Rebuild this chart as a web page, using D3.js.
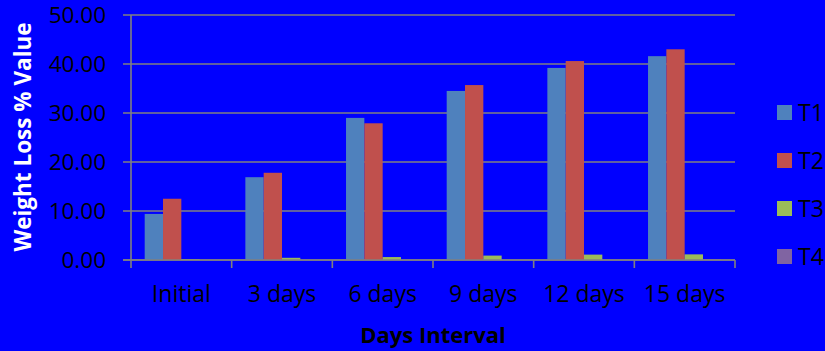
<!DOCTYPE html>
<html>
<head>
<meta charset="utf-8">
<script src="https://cdn.jsdelivr.net/npm/d3@7"></script>
<style>
  html, body { margin: 0; padding: 0; background: #0000ff; }
  svg { display: block; }
  text { font-family: "Open Sans", "DejaVu Sans", sans-serif; }
</style>
</head>
<body>
<svg id="chart" width="825" height="351"></svg>
<script>
// Weight loss (%) per treatment over the storage interval
const categories = ["Initial", "3 days", "6 days", "9 days", "12 days", "15 days"];
const seriesNames = ["T1", "T2", "T3", "T4"];
const t1 = [9.4, 16.9, 29.0, 34.5, 39.2, 41.6];
const t2 = [12.5, 17.8, 27.9, 35.7, 40.6, 43.0];
const t3 = [0.2, 0.45, 0.6, 0.9, 1.1, 1.15];
const t4 = [0.0, 0.0, 0.0, 0.0, 0.0, 0.2];
const yTicks = [0, 10, 20, 30, 40, 50];
const colors = ["#4f81bd", "#c0504d", "#9bbb59", "#8064a2"];

const series = [t1, t2, t3, t4];
const rows = categories.map((c, i) => ({ cat: c, values: series.map(s => s[i]) }));

const svg = d3.select("#chart");
const plotLeft = 131, plotRight = 735, plotTop = 15, plotBottom = 260;
const grid = "#808080";

const x0 = d3.scaleBand().domain(categories).range([plotLeft, plotRight])
  .paddingInner(0.272).paddingOuter(0.136);
const x1 = d3.scaleBand().domain(seriesNames).range([0, x0.bandwidth()]);
const y = d3.scaleLinear().domain([0, 50]).range([plotBottom, plotTop]);

// horizontal gridlines with short ticks to the left of the axis
svg.append("g").selectAll("line").data(yTicks).join("line")
  .attr("x1", plotLeft - 8).attr("x2", plotRight)
  .attr("y1", d => y(d)).attr("y2", d => y(d))
  .attr("stroke", grid).attr("stroke-width", 1.6);

// y tick labels
svg.append("g").selectAll("text").data(yTicks).join("text")
  .attr("x", 106).attr("y", d => y(d))
  .attr("dy", "0.37em").attr("text-anchor", "end")
  .attr("font-size", 22.5).attr("fill", "#000")
  .text(d3.format(".2f"));

// bars
const groups = svg.append("g").selectAll("g").data(rows).join("g")
  .attr("transform", d => `translate(${x0(d.cat)},0)`);
groups.selectAll("rect")
  .data(d => d.values.map((v, i) => ({ key: seriesNames[i], v, i })))
  .join("rect")
  .attr("x", d => x1(d.key))
  .attr("width", x1.bandwidth())
  .attr("y", d => y(d.v))
  .attr("height", d => Math.max(0, y(0) - y(d.v)))
  .attr("fill", d => colors[d.i]);

// vertical axis line and category boundary ticks
svg.append("line")
  .attr("x1", plotLeft).attr("x2", plotLeft).attr("y1", plotTop).attr("y2", plotBottom + 8)
  .attr("stroke", grid).attr("stroke-width", 1.6);
const bounds = categories.map(c => x0(c) - x0.step() * 0.136).concat([plotRight]);
svg.append("g").selectAll("line").data(bounds.slice(1)).join("line")
  .attr("x1", d => d).attr("x2", d => d)
  .attr("y1", plotBottom).attr("y2", plotBottom + 8)
  .attr("stroke", grid).attr("stroke-width", 1.6);
// baseline on top
svg.append("line")
  .attr("x1", plotLeft - 8).attr("x2", plotRight).attr("y1", plotBottom).attr("y2", plotBottom)
  .attr("stroke", grid).attr("stroke-width", 1.6);

// category labels
svg.append("g").selectAll("text").data(categories).join("text")
  .attr("x", d => x0(d) + x0.bandwidth() / 2).attr("y", 302)
  .attr("text-anchor", "middle").attr("font-size", 23).attr("fill", "#000")
  .text(d => d);

// axis titles
svg.append("text")
  .attr("x", (plotLeft + plotRight) / 2).attr("y", 343)
  .attr("text-anchor", "middle").attr("font-size", 22).attr("font-weight", "bold")
  .attr("fill", "#000").text("Days Interval");
svg.append("text")
  .attr("transform", "translate(31,137) rotate(-90)")
  .attr("text-anchor", "middle").attr("font-size", 22.5).attr("font-weight", "bold")
  .attr("fill", "#fff").text("Weight Loss % Value");

// legend
const legend = svg.append("g").selectAll("g").data(seriesNames).join("g")
  .attr("transform", (d, i) => `translate(777,${105 + i * 48})`);
legend.append("rect").attr("width", 15).attr("height", 15)
  .attr("fill", (d, i) => colors[i]);
legend.append("text").attr("x", 21).attr("y", 16)
  .attr("font-size", 23).attr("fill", "#000").text(d => d);
</script>
</body>
</html>
